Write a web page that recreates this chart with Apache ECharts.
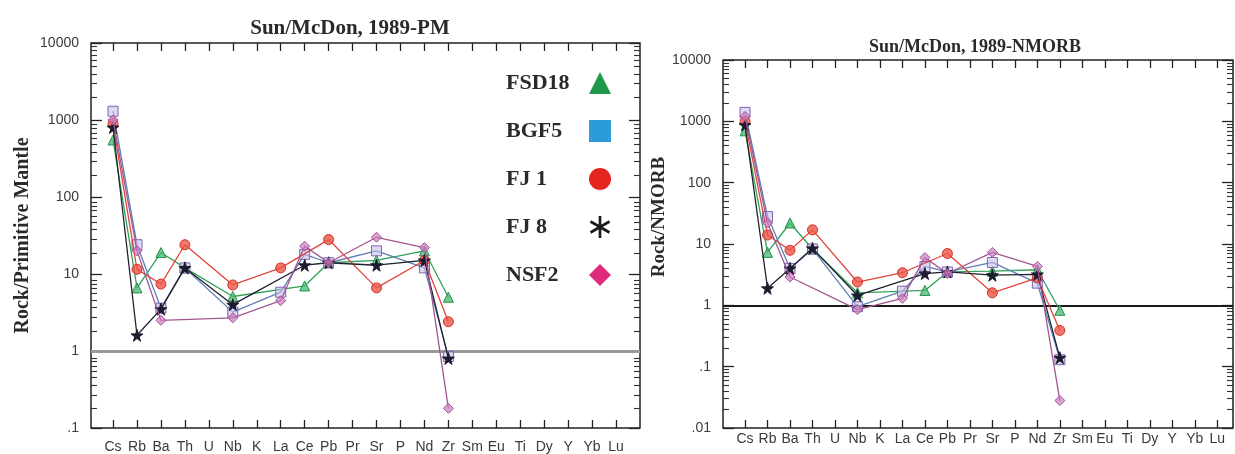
<!DOCTYPE html>
<html><head><meta charset="utf-8">
<script src="https://cdn.jsdelivr.net/npm/echarts@6/dist/echarts.min.js"></script>
<style>html,body{margin:0;padding:0;background:#fff}#c{width:1235px;height:454px}</style>
</head><body><div id="c"></div>
<script>
// ---- data ----
const categories = ['Cs','Rb','Ba','Th','U','Nb','K','La','Ce','Pb','Pr','Sr','P','Nd','Zr','Sm','Eu','Ti','Dy','Y','Yb','Lu'];
const seriesNames = ['FSD18','BGF5','FJ 1','FJ 8','NSF2'];
// Rock / Primitive Mantle (left panel)
const pm_FSD18 = [550, 6.6, 19, 12, null, 5.1, null, null, 7, 14, null, 15, null, 20, 5.0, null, null, null, null, null, null, null];
const pm_BGF5  = [1300, 24, 3.6, 12, null, 3.2, null, 5.8, 18, 14, null, 20, null, 12, 0.85, null, null, null, null, null, null, null];
const pm_FJ1   = [900, 11.5, 7.4, 24, null, 7.2, null, 12, null, 28, null, 6.6, null, 15, 2.4, null, null, null, null, null, null, null];
const pm_FJ8   = [800, 1.6, 3.5, 12, null, 4.0, null, null, 13, 14, null, 13, null, 15, 0.8, null, null, null, null, null, null, null];
const pm_NSF2  = [1000, 20, 2.5, null, null, 2.7, null, 4.5, 23, 14, null, 30, null, 22, 0.18, null, null, null, null, null, null, null];
// Rock / NMORB (right panel)
const nm_FSD18 = [700, 7.3, 22, 8.3, null, 1.6, null, null, 1.75, 3.5, null, 3.6, null, 3.8, 0.83, null, null, null, null, null, null, null];
const nm_BGF5  = [1400, 28, 4.0, 8.3, null, 0.95, null, 1.7, 4.3, 3.5, null, 5.0, null, 2.3, 0.13, null, null, null, null, null, null, null];
const nm_FJ1   = [1000, 14, 7.9, 17, null, 2.4, null, 3.4, null, 7.0, null, 1.6, null, 2.8, 0.39, null, null, null, null, null, null, null];
const nm_FJ8   = [870, 1.9, 4.0, 8.5, null, 1.45, null, null, 3.3, 3.5, null, 3.1, null, 3.2, 0.14, null, null, null, null, null, null, null];
const nm_NSF2  = [1200, 22, 2.9, null, null, 0.85, null, 1.3, 6.0, 3.3, null, 7.3, null, 4.3, 0.028, null, null, null, null, null, null, null];
// tick labels
const pmTicks = [0.1, 1, 10, 100, 1000, 10000];
const pmTickLabels = ['.1', '1', '10', '100', '1000', '10000'];
const nmTicks = [0.01, 0.1, 1, 10, 100, 1000, 10000];
const nmTickLabels = ['.01', '.1', '1', '10', '100', '1000', '10000'];
const titles = ['Sun/McDon, 1989-PM', 'Sun/McDon, 1989-NMORB'];
const yNames = ['Rock/Primitive Mantle', 'Rock/NMORB'];

// ---- helpers ----
const catIdx = categories.map((_, i) => i);
function minorTicks(lo, hi) {
  const out = [];
  for (let e = lo; e < hi; e++) for (let k = 2; k <= 9; k++) out.push(k * Math.pow(10, e));
  return out;
}
function fmt(ticks, labels) {
  return v => {
    const i = ticks.findIndex(t => Math.abs(Math.log10(t) - Math.log10(v)) < 1e-6);
    return i >= 0 ? labels[i] : '';
  };
}
const STAR = 'path://M50,0 L61,35 L98,35 L68,57 L79,91 L50,70 L21,91 L32,57 L2,35 L39,35 Z';
const ASTER = 'path://M44,0 L56,0 L56,100 L44,100 Z M90.3,19.8 L96.3,30.2 L9.7,80.2 L3.7,69.8 Z M96.3,69.8 L90.3,80.2 L3.7,30.2 L9.7,19.8 Z';
const styles = [
  {symbol: 'triangle', fill: 'rgba(70,185,115,0.75)', border: '#23904c', line: '#33a05a'},
  {symbol: 'rect', fill: 'rgba(200,190,235,0.6)', border: '#7d66b3', line: '#5d7fb5'},
  {symbol: 'circle', fill: 'rgba(235,85,70,0.8)', border: '#d5302a', line: '#e0453a'},
  {symbol: STAR, fill: '#1c1c2e', border: '#1c1c2e', line: '#20202e'},
  {symbol: 'diamond', fill: 'rgba(205,125,190,0.7)', border: '#a0529a', line: '#a35590'}
];
const legendIcons = [
  {icon: 'triangle', color: '#1f9a4c'},
  {icon: 'rect', color: '#2c9cd8'},
  {icon: 'circle', color: '#e5261e'},
  {icon: ASTER, color: '#1a1a1a'},
  {icon: 'diamond', color: '#e02a7c'}
];

const labelFont = {fontFamily: 'Liberation Sans, Arial, sans-serif', fontSize: 14, color: '#3a3a3a'};
const serifBold = {fontFamily: 'Liberation Serif, Times New Roman, serif', fontWeight: 'bold', color: '#2a2a2a'};

const grids = [
  {left: 91, top: 43, width: 549, height: 389},
  {left: 723, top: 60, width: 510, height: 368}
];
const xRanges = [[-0.92, 22], [-0.98, 21.7]];
const yRanges = [[0.1, 10000], [0.01, 10000]];
const tickSets = [[pmTicks, pmTickLabels], [nmTicks, nmTickLabels]];
const minorSets = [minorTicks(-1, 4), minorTicks(-2, 4)];
const dataSets = [
  [pm_FSD18, pm_BGF5, pm_FJ1, pm_FJ8, pm_NSF2],
  [nm_FSD18, nm_BGF5, nm_FJ1, nm_FJ8, nm_NSF2]
];
const oneLine = [{color: '#9a9a9a', width: 3}, {color: '#1a1a1a', width: 2}];

const gridOpt = [], xAxes = [], yAxes = [], series = [];
const tickLine = {color: '#222', width: 1.3};
const minorLine = {color: '#333', width: 1.1};
const noLine = {show: false, onZero: false};
for (let p = 0; p < 2; p++) {
  const g = grids[p];
  gridOpt.push(Object.assign({show: true, borderColor: '#222', borderWidth: 1.5, backgroundColor: 'transparent', containLabel: false}, g));
  gridOpt.push(Object.assign({show: false, containLabel: false}, g));
  const gi = p * 2, go = p * 2 + 1;
  const xBase = {type: 'value', min: xRanges[p][0], max: xRanges[p][1], splitLine: {show: false}, axisLine: noLine};
  xAxes.push(Object.assign({}, xBase, {
    gridIndex: gi, position: 'bottom',
    axisTick: {show: true, inside: true, length: 8, customValues: catIdx, lineStyle: tickLine},
    axisLabel: Object.assign({show: true, customValues: catIdx, margin: p === 0 ? 12 : 4, hideOverlap: false,
      formatter: v => categories[Math.round(v)] || ''}, labelFont)
  }));
  xAxes.push(Object.assign({}, xBase, {
    gridIndex: gi, position: 'top',
    axisTick: {show: true, inside: true, length: 8, customValues: catIdx, lineStyle: tickLine},
    axisLabel: {show: false}
  }));
  xAxes.push(Object.assign({}, xBase, {gridIndex: go, show: false}));

  const yBase = {type: 'log', logBase: 10, min: yRanges[p][0], max: yRanges[p][1], splitLine: {show: false}, axisLine: noLine};
  const [tk, tl] = tickSets[p];
  yAxes.push(Object.assign({}, yBase, {
    gridIndex: gi, position: 'left',
    name: yNames[p], nameLocation: 'middle', nameGap: p === 0 ? 58 : 48,
    nameTextStyle: Object.assign({fontSize: p === 0 ? 20 : 19, padding: p === 0 ? 0 : [0, 0, 0, 54]}, serifBold),
    axisTick: {show: true, inside: true, length: 11, customValues: tk, lineStyle: tickLine},
    axisLabel: Object.assign({show: true, customValues: tk, margin: 12, formatter: fmt(tk, tl)}, labelFont)
  }));
  yAxes.push(Object.assign({}, yBase, {
    gridIndex: gi, position: 'right',
    axisTick: {show: true, inside: true, length: 11, customValues: tk, lineStyle: tickLine},
    axisLabel: {show: false}
  }));
  yAxes.push(Object.assign({}, yBase, {
    gridIndex: go, position: 'left',
    axisTick: {show: true, inside: true, length: 6, customValues: minorSets[p], lineStyle: minorLine},
    axisLabel: {show: false}
  }));
  yAxes.push(Object.assign({}, yBase, {
    gridIndex: go, position: 'right',
    axisTick: {show: true, inside: true, length: 6, customValues: minorSets[p], lineStyle: minorLine},
    axisLabel: {show: false}
  }));

  const xi = p * 3, yi = p * 4;
  dataSets[p].forEach((arr, s) => {
    const st = styles[s];
    const data = [];
    arr.forEach((v, i) => { if (v !== null) data.push([i, v]); });
    const ser = {
      type: 'line', name: seriesNames[s], xAxisIndex: xi, yAxisIndex: yi,
      data: data, symbol: st.symbol, symbolSize: s === 3 ? 12 : 10, showAllSymbol: true,
      lineStyle: {color: st.line, width: 1.3},
      itemStyle: {color: st.fill, borderColor: st.border, borderWidth: 1},
      emphasis: {disabled: true}, animation: false, z: 3 + s
    };
    if (s === 0) {
      ser.markLine = {silent: true, symbol: 'none', label: {show: false}, animation: false,
        lineStyle: {color: oneLine[p].color, width: oneLine[p].width, type: 'solid'},
        data: [{yAxis: 1}], z: 1};
    }
    series.push(ser);
  });
}

const chart = echarts.init(document.getElementById('c'), null, {renderer: 'canvas'});
chart.setOption({
  animation: false,
  backgroundColor: '#fff',
  title: [
    {text: titles[0], left: 345, top: 13, textAlign: 'center', textStyle: Object.assign({fontSize: 21}, serifBold)},
    {text: titles[1], left: 970, top: 33, textAlign: 'center', textStyle: Object.assign({fontSize: 18}, serifBold)}
  ],
  legend: {
    orient: 'vertical', left: 501, top: 67, align: 'right', itemGap: 26, itemWidth: 22, itemHeight: 22,
    selectedMode: false,
    formatter: n => '{t|' + n + '}',
    textStyle: Object.assign({fontSize: 22, padding: 0,
      rich: {t: Object.assign({fontSize: 22, width: 78, align: 'left'}, serifBold)}}, serifBold),
    data: seriesNames.map((n, i) => ({name: n, icon: legendIcons[i].icon,
      itemStyle: {color: legendIcons[i].color, borderWidth: 0}}))
  },
  grid: gridOpt, xAxis: xAxes, yAxis: yAxes, series: series
});
</script></body></html>
